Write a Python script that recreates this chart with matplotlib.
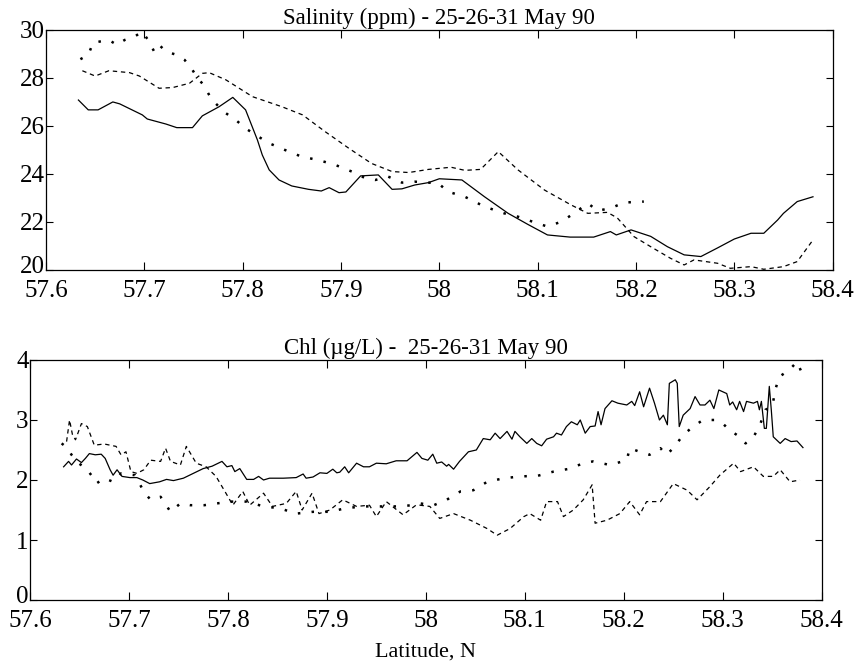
import numpy as np
import matplotlib.pyplot as plt
from matplotlib.transforms import ScaledTranslation

plt.rcParams['font.family'] = ['Liberation Serif', 'DejaVu Serif']

# ---- Salinity (ppm), top panel ----
sal_solid_lat = [57.633, 57.643, 57.653, 57.668, 57.675, 57.698, 57.703, 57.722, 57.733,
                 57.749, 57.759, 57.776, 57.790, 57.803, 57.815, 57.820, 57.827, 57.837,
                 57.850, 57.867, 57.880, 57.888, 57.898, 57.905, 57.920, 57.938, 57.952,
                 57.962, 57.975, 57.989, 58.000, 58.023, 58.046, 58.070, 58.090, 58.110,
                 58.133, 58.157, 58.174, 58.180, 58.195, 58.215, 58.232, 58.249, 58.266,
                 58.283, 58.300, 58.317, 58.330, 58.344, 58.350, 58.364, 58.380]
sal_solid = [27.08, 26.67, 26.67, 27.0, 26.92, 26.46, 26.29, 26.08, 25.93,
             25.93, 26.42, 26.8, 27.19, 26.67, 25.42, 24.79, 24.17, 23.75,
             23.5, 23.36, 23.29, 23.43, 23.22, 23.25, 23.92, 23.96, 23.36,
             23.38, 23.54, 23.64, 23.8, 23.75, 23.05, 22.36, 21.9, 21.46,
             21.37, 21.37, 21.6, 21.46, 21.67, 21.4, 20.97, 20.63, 20.56,
             20.92, 21.29, 21.53, 21.53, 22.08, 22.36, 22.85, 23.05]

sal_dash_lat = [57.637, 57.650, 57.664, 57.685, 57.695, 57.715, 57.729, 57.746, 57.759,
                57.766, 57.783, 57.810, 57.840, 57.861, 57.884, 57.908, 57.931, 57.952,
                57.969, 57.989, 58.012, 58.026, 58.042, 58.060, 58.080, 58.107, 58.134,
                58.151, 58.171, 58.181, 58.198, 58.215, 58.235, 58.249, 58.259, 58.283,
                58.296, 58.317, 58.330, 58.350, 58.364, 58.380]
sal_dash = [28.3, 28.08, 28.3, 28.22, 28.08, 27.57, 27.6, 27.78, 28.19,
            28.22, 27.92, 27.22, 26.8, 26.46, 25.76, 25.07, 24.44, 24.1,
            24.06, 24.19, 24.28, 24.15, 24.19, 24.93, 24.17, 23.33, 22.71,
            22.36, 22.4, 22.17, 21.39, 20.97, 20.49, 20.21, 20.42, 20.28,
            20.07, 20.14, 20.03, 20.14, 20.35, 21.25]

sal_dot_lat = [57.635, 57.643, 57.648, 57.664, 57.672, 57.680, 57.690, 57.698, 57.705,
               57.710, 57.715, 57.722, 57.733, 57.741, 57.748, 57.753, 57.761, 57.765,
               57.769, 57.776, 57.783, 57.793, 57.803, 57.813, 57.827, 57.843, 57.860,
               57.877, 57.894, 57.911, 57.925, 57.935, 57.948, 57.962, 57.975, 57.989,
               57.999, 58.009, 58.026, 58.046, 58.066, 58.080, 58.100, 58.110, 58.124,
               58.137, 58.151, 58.161, 58.174, 58.188, 58.208]
sal_dot = [28.78, 28.96, 29.47, 29.58, 29.38, 29.58, 29.72, 29.93, 29.51,
           29.1, 29.38, 29.1, 28.96, 28.75, 28.4, 28.06, 27.67, 27.36,
           27.08, 26.8, 26.53, 26.25, 25.9, 25.63, 25.28, 25.0, 24.72,
           24.58, 24.38, 24.1, 23.82, 23.75, 23.89, 23.64, 23.68, 23.64,
           23.61, 23.26, 23.05, 22.64, 22.36, 22.22, 21.94, 21.81, 22.01,
           22.36, 22.78, 22.47, 22.57, 22.81, 22.85]

# ---- Chl (ug/L), bottom panel ----
chl_solid_lat = [57.634, 57.639, 57.642, 57.647, 57.652, 57.656, 57.660, 57.666, 57.672,
                 57.676, 57.681, 57.684, 57.688, 57.693, 57.701, 57.708, 57.714, 57.721,
                 57.731, 57.738, 57.745, 57.755, 57.765, 57.775, 57.784, 57.794, 57.799,
                 57.804, 57.807, 57.812, 57.819, 57.826, 57.831, 57.836, 57.842, 57.856,
                 57.869, 57.876, 57.879, 57.886, 57.893, 57.900, 57.906, 57.910, 57.913,
                 57.918, 57.922, 57.930, 57.937, 57.943, 57.950, 57.960, 57.970, 57.981,
                 57.991, 57.996, 58.002, 58.007, 58.011, 58.016, 58.021, 58.023, 58.028,
                 58.034, 58.043, 58.051, 58.058, 58.065, 58.070, 58.075, 58.082, 58.087,
                 58.090, 58.095, 58.102, 58.107, 58.112, 58.117, 58.122, 58.129, 58.132,
                 58.137, 58.142, 58.147, 58.153, 58.156, 58.161, 58.166, 58.171, 58.174,
                 58.177, 58.181, 58.188, 58.194, 58.203, 58.208, 58.211, 58.216, 58.220,
                 58.226, 58.231, 58.236, 58.240, 58.244, 58.246, 58.252, 58.254, 58.256,
                 58.260, 58.267, 58.272, 58.277, 58.282, 58.287, 58.291, 58.296, 58.304,
                 58.307, 58.310, 58.314, 58.317, 58.321, 58.324, 58.331, 58.335, 58.337,
                 58.339, 58.342, 58.344, 58.347, 58.349, 58.351, 58.358, 58.363, 58.369,
                 58.375, 58.381]
chl_solid = [2.22, 2.31, 2.25, 2.35, 2.29, 2.36, 2.44, 2.42, 2.43,
             2.36, 2.17, 2.08, 2.17, 2.06, 2.04, 2.04, 2.00, 1.94,
             1.97, 2.01, 1.99, 2.03, 2.11, 2.19, 2.23, 2.31, 2.22,
             2.24, 2.14, 2.19, 2.01, 2.01, 2.06, 2.00, 2.03, 2.03,
             2.04, 2.10, 2.03, 2.05, 2.12, 2.11, 2.18, 2.12, 2.13,
             2.22, 2.12, 2.28, 2.22, 2.22, 2.28, 2.27, 2.32, 2.32,
             2.46, 2.36, 2.33, 2.43, 2.28, 2.30, 2.23, 2.26, 2.18,
             2.31, 2.47, 2.50, 2.69, 2.67, 2.78, 2.69, 2.81, 2.68,
             2.81, 2.72, 2.61, 2.69, 2.61, 2.57, 2.68, 2.72, 2.78,
             2.75, 2.89, 2.97, 2.92, 3.00, 2.78, 2.89, 2.90, 3.14,
             2.92, 3.19, 3.32, 3.28, 3.25, 3.31, 3.24, 3.47, 3.22,
             3.53, 3.28, 3.00, 3.08, 2.92, 3.61, 3.67, 3.61, 2.89,
             3.08, 3.19, 3.39, 3.25, 3.25, 3.33, 3.19, 3.50, 3.44,
             3.25, 3.30, 3.17, 3.31, 3.14, 3.31, 3.28, 3.31, 3.17,
             3.31, 2.86, 2.86, 3.56, 3.17, 2.72, 2.61, 2.69, 2.64,
             2.65, 2.54]

chl_dash_lat = [57.637, 57.640, 57.643, 57.646, 57.652, 57.658, 57.665, 57.675, 57.687,
                57.692, 57.697, 57.702, 57.708, 57.715, 57.722, 57.732, 57.737, 57.742,
                57.752, 57.758, 57.768, 57.778, 57.788, 57.798, 57.805, 57.815, 57.822,
                57.836, 57.845, 57.859, 57.869, 57.875, 57.885, 57.892, 57.903, 57.916,
                57.930, 57.943, 57.950, 57.960, 57.977, 57.990, 57.994, 58.004, 58.014,
                58.028, 58.045, 58.062, 58.072, 58.085, 58.099, 58.105, 58.116, 58.122,
                58.133, 58.139, 58.149, 58.159, 58.168, 58.171, 58.183, 58.196, 58.206,
                58.216, 58.223, 58.237, 58.250, 58.264, 58.274, 58.287, 58.297, 58.311,
                58.318, 58.331, 58.341, 58.351, 58.358, 58.368, 58.378]
chl_dash = [2.64, 3.0, 2.75, 2.67, 2.94, 2.89, 2.58, 2.6, 2.56,
            2.42, 2.47, 2.14, 2.11, 2.17, 2.33, 2.31, 2.53, 2.31,
            2.25, 2.56, 2.28, 2.22, 2.06, 1.78, 1.58, 1.81, 1.58,
            1.78, 1.56, 1.61, 1.81, 1.5, 1.78, 1.44, 1.5, 1.67,
            1.56, 1.58, 1.39, 1.64, 1.42, 1.58, 1.58, 1.56, 1.36,
            1.44, 1.33, 1.19, 1.08, 1.19, 1.39, 1.44, 1.33, 1.64,
            1.64, 1.39, 1.5, 1.67, 1.92, 1.28, 1.33, 1.44, 1.64,
            1.42, 1.64, 1.64, 1.94, 1.83, 1.67, 1.89, 2.08, 2.28,
            2.14, 2.22, 2.06, 2.06, 2.17, 1.97, 2.0]

chl_dot_lat = [57.632, 57.638, 57.642, 57.649, 57.657, 57.662, 57.667, 57.675, 57.684,
               57.692, 57.706, 57.716, 57.722, 57.732, 57.742, 57.752, 57.762, 57.776,
               57.789, 57.802, 57.819, 57.836, 57.852, 57.869, 57.886, 57.903, 57.919,
               57.936, 57.953, 57.970, 57.987, 57.994, 58.008, 58.021, 58.035, 58.048,
               58.062, 58.079, 58.096, 58.113, 58.129, 58.146, 58.159, 58.169, 58.186,
               58.203, 58.206, 58.216, 58.226, 58.237, 58.243, 58.250, 58.260, 58.270,
               58.280, 58.293, 58.300, 58.307, 58.317, 58.323, 58.330, 58.337, 58.343,
               58.350, 58.353, 58.357, 58.367, 58.375, 58.380]
chl_dot = [2.61, 2.53, 2.42, 2.28, 2.19, 2.08, 1.94, 2.03, 1.97,
           2.11, 2.08, 1.78, 1.67, 1.72, 1.47, 1.61, 1.58, 1.58,
           1.61, 1.64, 1.64, 1.56, 1.53, 1.44, 1.47, 1.47, 1.53,
           1.56, 1.56, 1.56, 1.58, 1.61, 1.58, 1.67, 1.81, 1.83,
           1.97, 2.03, 2.06, 2.07, 2.14, 2.19, 2.28, 2.31, 2.25,
           2.33, 2.53, 2.47, 2.42, 2.53, 2.42, 2.53, 2.75, 2.89,
           3.0, 3.0, 2.94, 2.83, 2.72, 2.61, 2.69, 2.89, 3.17,
           3.22, 3.5, 3.72, 3.83, 3.97, 3.78]

x_ticks = [57.6, 57.7, 57.8, 57.9, 58.0, 58.1, 58.2, 58.3, 58.4]
x_labels = ['57.6', '57.7', '57.8', '57.9', '58', '58.1', '58.2', '58.3', '58.4']

DASH = (0, (3.5, 3))
DOT = (0, (1, 4.5))


def style_axes(fig, ax, yticks):
    ax.set_xlim(57.6, 58.4)
    ax.set_xticks(x_ticks)
    ax.set_xticklabels(x_labels)
    ax.set_yticks(yticks)
    ax.tick_params(direction='in', top=True, right=True, length=6, width=0.8,
                   labelsize=18)
    ax.tick_params(axis='x', pad=7)
    ax.tick_params(axis='y', right=True, length=5, pad=1)
    for s in ax.spines.values():
        s.set_linewidth(0.9)
    # lowest y label sits a touch above the corner so it clears the x labels
    low = ax.yaxis.get_major_ticks()[0].label1
    low.set_transform(low.get_transform() + ScaledTranslation(0, 4 / 72, fig.dpi_scale_trans))


fig = plt.figure(figsize=(8.56, 6.65), dpi=100)

ax1 = fig.add_axes([0.0537, 0.594, 0.919, 0.361])
ax1.plot(sal_solid_lat, sal_solid, color='black', lw=0.9)
ax1.plot(sal_dash_lat, sal_dash, color='black', lw=0.9, linestyle=DASH)
ax1.plot(sal_dot_lat, sal_dot, color='black', lw=1.8, linestyle=DOT)
ax1.set_ylim(20, 30)
style_axes(fig, ax1, [20, 22, 24, 26, 28, 30])
ax1.text(0.5, 1.005, 'Salinity (ppm) - 25-26-31 May 90', transform=ax1.transAxes,
         ha='center', va='bottom', fontsize=16.5)

ax2 = fig.add_axes([0.035, 0.0977, 0.925, 0.361])
ax2.plot(chl_solid_lat, chl_solid, color='black', lw=0.9)
ax2.plot(chl_dash_lat, chl_dash, color='black', lw=0.9, linestyle=DASH)
ax2.plot(chl_dot_lat, chl_dot, color='black', lw=1.8, linestyle=DOT)
ax2.set_ylim(0, 4)
style_axes(fig, ax2, [0, 1, 2, 3, 4])
ax2.text(0.5, 1.005, 'Chl (\u00b5g/L) -  25-26-31 May 90', transform=ax2.transAxes,
         ha='center', va='bottom', fontsize=16.5)
ax2.set_xlabel('Latitude, N', fontsize=16, labelpad=8)

fig.savefig('out.png', dpi=100)
